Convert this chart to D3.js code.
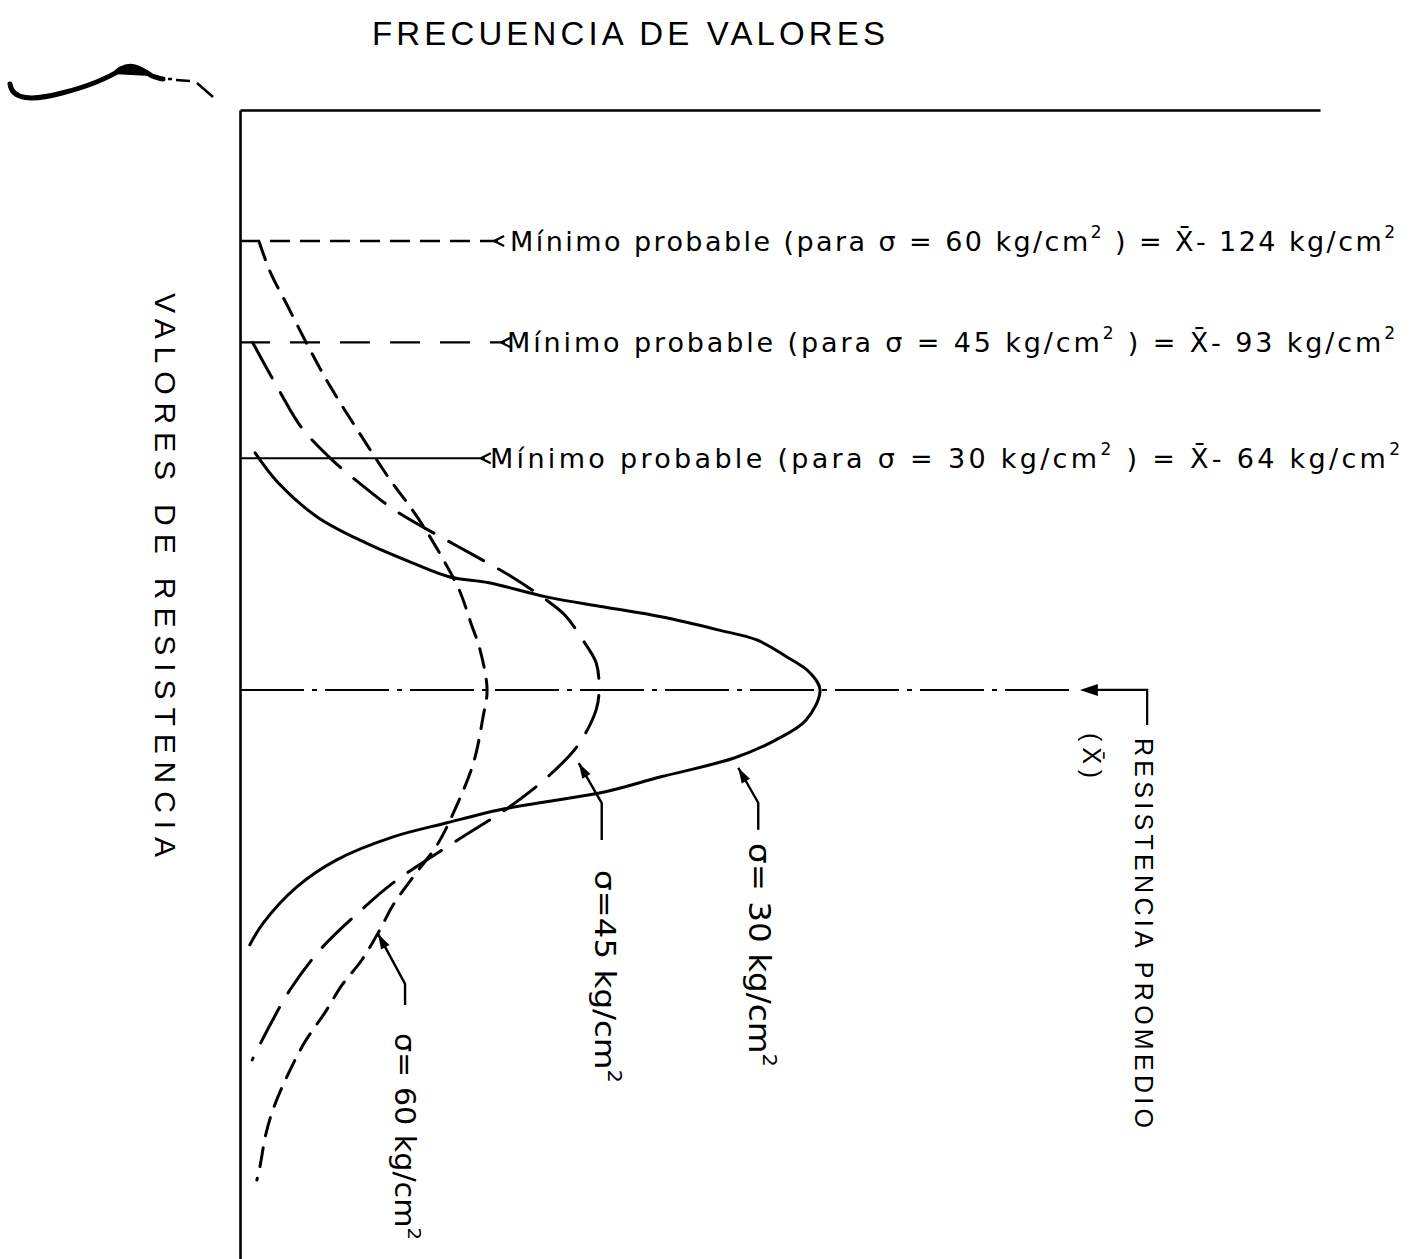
<!DOCTYPE html>
<html><head><meta charset="utf-8">
<script src="https://cdn.jsdelivr.net/npm/d3@7"></script>
<style>html,body{margin:0;padding:0;background:#fff;}svg{display:block;}</style>
</head><body>
<script>
// ---------- data ----------
// resistance = deviation from the mean (kg/cm²), frequency = relative (σ=30 peak = 1)
const sigmas = [30, 45, 60];
const res30  = [-65.5,-57.2,-47.8,-40.6,-35.1,-31.2,-29.6,-25.7,-22.9,-20.2,-16.6,-13.8,-9.1,-4.7,0,8.3,13.8,18.8,24.0,28.2,30.9,33.1,36.7,40.6,47.0,54.4,64.4,70.4];
const freq30 = [0.026,0.066,0.133,0.217,0.297,0.362,0.429,0.528,0.628,0.726,0.824,0.891,0.943,0.983,1.0,0.976,0.924,0.852,0.726,0.628,0.528,0.448,0.357,0.264,0.166,0.098,0.040,0.017];
const res45  = [-95.9,-82.3,-72.7,-64.1,-56.1,-49.2,-42.8,-37.3,-31.2,-25.1,-20.7,-13.8,-7.5,0,5.5,15.2,23.5,32.6,41.4,53.3,60.8,71.8,82.9,92.5,102.2];
const freq45 = [0.022,0.069,0.105,0.155,0.214,0.271,0.340,0.402,0.469,0.526,0.560,0.591,0.614,0.619,0.614,0.583,0.534,0.462,0.376,0.264,0.209,0.138,0.086,0.052,0.021];
const res60  = [-123.8,-115.5,-106.4,-95.4,-84.0,-67.7,-58.0,-51.1,-45.0,-36.7,-27.6,-18.5,-11.0,0,7.5,19.9,31.8,42.8,50.3,59.4,66.3,74.6,81.5,89.0,97.2,105.8,114.6,122.4,132.0,135.4];
const freq60 = [0.033,0.052,0.081,0.116,0.155,0.219,0.259,0.291,0.317,0.348,0.378,0.398,0.414,0.426,0.419,0.403,0.374,0.340,0.305,0.264,0.241,0.210,0.176,0.147,0.112,0.084,0.060,0.045,0.034,0.029];

const minSigmas   = [60, 45, 30];
const minOffsets  = [124, 93, 64];       // printed values: X̄ - offset
const minLineRes  = [-124, -96, -64];    // where the lines sit
const minArrowFreq = [0.445, 0.457, 0.422];

const titleTop  = "FRECUENCIA DE VALORES";
const titleLeft = "VALORES DE RESISTENCIA";
const meanLabel = "RESISTENCIA PROMEDIO";

// ---------- layout ----------
const W = 1412, H = 1259;
const svg = d3.select("body").append("svg").attr("width", W).attr("height", H)
  .style("background", "#fff");

const x = d3.scaleLinear().domain([0, 1.862]).range([240, 1320]);
const y = d3.scaleLinear().domain([-160.2, 157.2]).range([110, 1259]);

const ink = "#000";

// decorative scan squiggle at top-left
svg.append("path")
  .attr("d", "M10,84 C12,100 32,101 62,93 C90,86 108,78 122,69 C130,63 140,68 152,76 C158,78 160,79 163,79")
  .attr("fill", "none").attr("stroke", ink).attr("stroke-width", 5).attr("stroke-linecap", "round");
svg.append("path").attr("d", "M112,74 C120,62 130,62 150,76 Z").attr("fill", ink);
svg.append("path").attr("d", "M168,79 L172,79 M176,80 L190,81 M197,83 L213,97")
  .attr("fill", "none").attr("stroke", ink).attr("stroke-width", 2.5);

// axes
const yAxis = d3.axisLeft(y).tickValues([]).tickSizeOuter(0);
svg.append("g").attr("transform", `translate(${x(0)},0)`).call(yAxis)
  .call(g => g.select(".domain").attr("stroke", ink).attr("stroke-width", 2.6));
const xAxis = d3.axisTop(x).tickValues([]).tickSizeOuter(0);
svg.append("g").attr("transform", `translate(0,${y.range()[0]})`).call(xAxis)
  .call(g => g.select(".domain").attr("stroke", ink).attr("stroke-width", 2.6));

// titles
svg.append("text").text(titleTop)
  .attr("x", 372).attr("y", 45).attr("font-family", "Liberation Sans, Arial, sans-serif")
  .attr("font-size", 33).attr("textLength", 513).attr("lengthAdjust", "spacing").attr("fill", ink);
svg.append("text").text(titleLeft)
  .attr("transform", "translate(155,293) rotate(90)")
  .attr("font-family", "Liberation Sans, Arial, sans-serif")
  .attr("font-size", 30).attr("textLength", 564).attr("lengthAdjust", "spacing").attr("fill", ink);

// mean line (dash-dot)
const y0 = y(0);
const meanTipF = 1.448, meanElbowF = 1.564, meanEndRes = 9.7;
svg.append("line").attr("x1", x(0)).attr("x2", x(meanTipF) - 6).attr("y1", y0).attr("y2", y0)
  .attr("stroke", ink).attr("stroke-width", 2).attr("stroke-dasharray", "64,8,5,8");
svg.append("path")
  .attr("d", `M${x(meanTipF) + 14},${y0} H${x(meanElbowF)} V${y(meanEndRes)}`)
  .attr("fill", "none").attr("stroke", ink).attr("stroke-width", 2.2);
svg.append("path")
  .attr("d", `M${x(meanTipF)},${y0} l18,-6 l0,12 Z`).attr("fill", ink);

svg.append("text").text(meanLabel)
  .attr("transform", `translate(${x(meanElbowF) - 12},738) rotate(90)`)
  .attr("font-family", "Liberation Sans, Arial, sans-serif")
  .attr("font-size", 25).attr("textLength", 390).attr("lengthAdjust", "spacing").attr("fill", ink);
svg.append("text").text("(X\u0304)")
  .attr("transform", `translate(${x(meanTipF) + 3},733) rotate(90)`)
  .attr("font-family", "Liberation Sans, Arial, sans-serif")
  .attr("font-size", 25).attr("textLength", 45).attr("lengthAdjust", "spacing").attr("fill", ink);

// curves
const line = d3.line().x(d => x(d[1])).y(d => y(d[0])).curve(d3.curveCatmullRom.alpha(0.5));
const curves = [
  {s: 30, pts: d3.zip(res30, freq30), dash: null, w: 3},
  {s: 45, pts: d3.zip(res45, freq45), dash: "40,17", w: 3},
  {s: 60, pts: d3.zip(res60, freq60), dash: "19,12", w: 3}
];
curves.forEach(c => {
  svg.append("path").attr("d", line(c.pts)).attr("fill", "none")
    .attr("stroke", ink).attr("stroke-width", c.w)
    .attr("stroke-dasharray", c.dash).attr("stroke-linecap", "round");
});

// minimum-probable lines
const minDash = {60: "20,10", 45: "30,20", 30: null};
const minTextStart = [510, 507, 490];
const minTextEnd = [1395, 1395, 1400];
minSigmas.forEach((s, i) => {
  const yy = y(minLineRes[i]);
  const xa = x(minArrowFreq[i]);
  svg.append("line").attr("x1", x(0)).attr("x2", xa).attr("y1", yy).attr("y2", yy)
    .attr("stroke", ink).attr("stroke-width", s === 30 ? 1.8 : 2.4)
    .attr("stroke-dasharray", minDash[s]);
  svg.append("path").attr("d", `M${xa - 4},${yy} l10,-5 M${xa - 4},${yy} l10,5`)
    .attr("stroke", ink).attr("stroke-width", 2.2).attr("fill", "none");
  const t = svg.append("text").attr("x", minTextStart[i]).attr("y", yy + 10)
    .attr("font-family", "DejaVu Sans, sans-serif").attr("font-size", 27).attr("fill", ink)
    .attr("textLength", minTextEnd[i] - minTextStart[i]).attr("lengthAdjust", "spacing");
  t.append("tspan").text(`Mínimo probable (para  σ = ${s} kg/cm`);
  t.append("tspan").text("2").attr("font-size", 17).attr("dy", -13);
  t.append("tspan").text(` ) = X\u0304- ${minOffsets[i]} kg/cm`).attr("dy", 13);
  t.append("tspan").text("2").attr("font-size", 17).attr("dy", -13);
});

// curve labels with leader arrows
const labelRes  = [21.5, 20.2, 67.4];   // arrow tip on curve
const labelFreq = [0.859, 0.584, 0.238];
const leader = [
  {dx1: 20, dy1: 35, dy2: 62, tx: 749, ty: 843, len: 224, fs: 31},
  {dx1: 23, dy1: 40, dy2: 77, tx: 595, ty: 870, len: 213, fs: 29},
  {dx1: 27, dy1: 50, dy2: 71, tx: 395, ty: 1033, len: 207, fs: 28}
];
sigmas.forEach((s, i) => {
  const tx = x(labelFreq[i]), ty = y(labelRes[i]);
  const L = leader[i];
  svg.append("path")
    .attr("d", `M${tx},${ty} L${tx + L.dx1},${ty + L.dy1} L${tx + L.dx1},${ty + L.dy2}`)
    .attr("fill", "none").attr("stroke", ink).attr("stroke-width", 2.4);
  const ang = Math.atan2(L.dy1, L.dx1);
  const a1 = ang + 0.3, a2 = ang - 0.3;
  svg.append("path")
    .attr("d", `M${tx},${ty} L${tx + 16 * Math.cos(a1)},${ty + 16 * Math.sin(a1)} L${tx + 16 * Math.cos(a2)},${ty + 16 * Math.sin(a2)} Z`)
    .attr("fill", ink);
  const t = svg.append("text").attr("transform", `translate(${L.tx},${L.ty}) rotate(90)`)
    .attr("font-family", "DejaVu Sans, sans-serif").attr("font-size", L.fs).attr("fill", ink)
    .attr("textLength", L.len).attr("lengthAdjust", "spacingAndGlyphs");
  t.append("tspan").text(i === 1 ? `σ=${s} kg/cm` : `σ= ${s} kg/cm`);
  t.append("tspan").text("2").attr("font-size", L.fs * 0.65).attr("dy", -L.fs * 0.45);
});
</script>
</body></html>
